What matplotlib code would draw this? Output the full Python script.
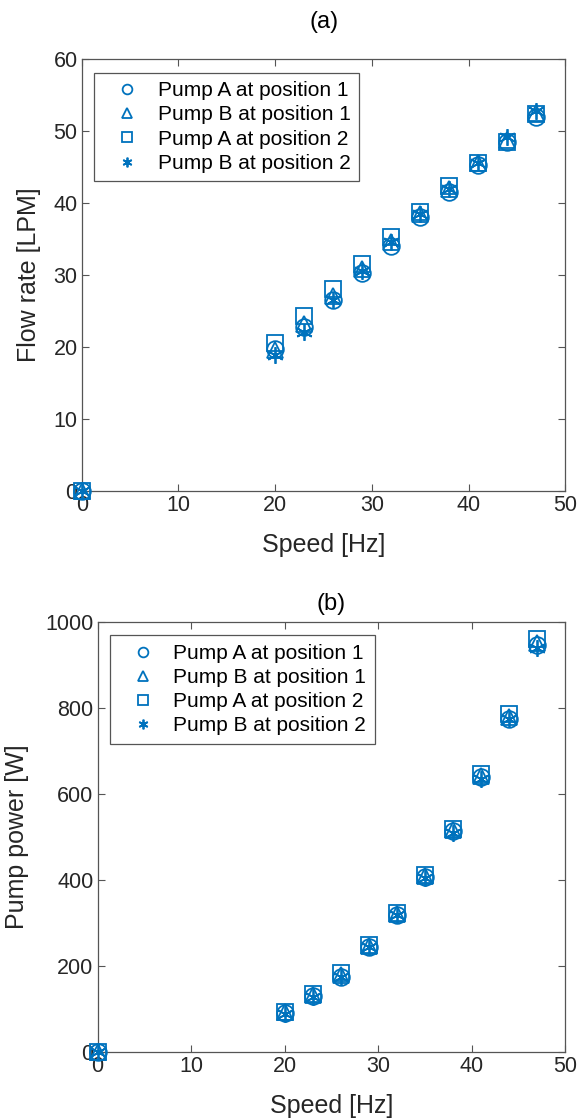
import matplotlib.pyplot as plt
from matplotlib.lines import Line2D

plt.rcParams['font.family'] = ['Liberation Sans', 'DejaVu Sans']

speed = [0, 20, 23, 26, 29, 32, 35, 38, 41, 44, 47]

# flow rate [LPM]
flow_a1 = [0, 19.7, 22.8, 26.5, 30.3, 34.0, 38.0, 41.5, 45.2, 48.5, 52.0]
flow_b1 = [0, 19.5, 23.2, 27.0, 30.8, 34.5, 38.5, 42.0, 45.5, 48.8, 52.5]
flow_a2 = [0, 20.5, 24.3, 28.0, 31.5, 35.3, 38.8, 42.3, 45.6, 48.5, 52.3]
flow_b2 = [0, 18.8, 22.0, 26.5, 30.5, 34.5, 38.5, 42.0, 45.5, 49.2, 52.8]

# pump power [W]
power_a1 = [0, 90, 130, 175, 243, 318, 407, 513, 640, 775, 945]
power_b1 = [0, 92, 132, 178, 246, 320, 410, 515, 642, 778, 950]
power_a2 = [0, 93, 135, 183, 248, 323, 412, 518, 645, 785, 960]
power_b2 = [0, 88, 128, 175, 243, 318, 405, 510, 635, 775, 940]

labels = ['Pump A at position 1', 'Pump B at position 1',
          'Pump A at position 2', 'Pump B at position 2']
markers = ['o', '^', 's', (6, 2, 0)]
col = '#0072BD'
axcol = '#262626'

fig = plt.figure(figsize=(5.8, 11.2), dpi=100)
ax1 = fig.add_axes([0.1409, 0.5619, 0.834, 0.3854])
ax2 = fig.add_axes([0.1684, 0.0607, 0.806, 0.3842])


def draw(ax, series, ymax, ystep, ylabel, title, title_y, ylab_x, leg_xy):
    for ys, m in zip(series, markers):
        ax.plot(speed, ys, linestyle='none', marker=m, markersize=12,
                markerfacecolor='none', markeredgecolor=col, markeredgewidth=1.3,
                clip_on=False, zorder=3)
    ax.set_xlim(0, 50)
    ax.set_ylim(0, ymax)
    ax.set_xticks(range(0, 51, 10))
    ax.set_yticks(range(0, ymax + 1, ystep))
    ax.tick_params(direction='in', top=True, right=True, labelsize=15.5,
                   labelcolor=axcol, color='#555555', length=5, pad=3)
    for s in ax.spines.values():
        s.set_color('#555555')
        s.set_linewidth(0.9)
    ax.set_xlabel('Speed [Hz]', fontsize=18, color=axcol)
    ax.xaxis.set_label_coords(0.5, -0.098)
    ax.set_ylabel(ylabel, fontsize=18, color=axcol)
    ax.yaxis.set_label_coords(ylab_x, 0.5)
    ax.text(0.5, title_y, title, fontsize=17, ha='center', va='center',
            transform=ax.transAxes)
    handles = [Line2D([], [], linestyle='none', marker=m, markersize=7,
                      markerfacecolor='none', markeredgecolor=col,
                      markeredgewidth=1.3) for m in markers]
    leg = ax.legend(handles, labels, loc='upper left', fontsize=15,
                    fancybox=False, edgecolor='#555555', handlelength=2.4,
                    handletextpad=0.25, labelspacing=0.25, borderpad=0.4,
                    bbox_to_anchor=leg_xy, borderaxespad=0, framealpha=1)
    leg.get_frame().set_linewidth(0.9)
    for t in leg.get_texts():
        t.set_color('black')


draw(ax1, [flow_a1, flow_b1, flow_a2, flow_b2], 60, 10, 'Flow rate [LPM]', '(a)',
     1.086, -0.085, (0.0255, 0.968))
draw(ax2, [power_a1, power_b1, power_a2, power_b2], 1000, 200, 'Pump power [W]', '(b)',
     1.041, -0.147, (0.026, 0.968))

fig.savefig('out.png', dpi=100)
